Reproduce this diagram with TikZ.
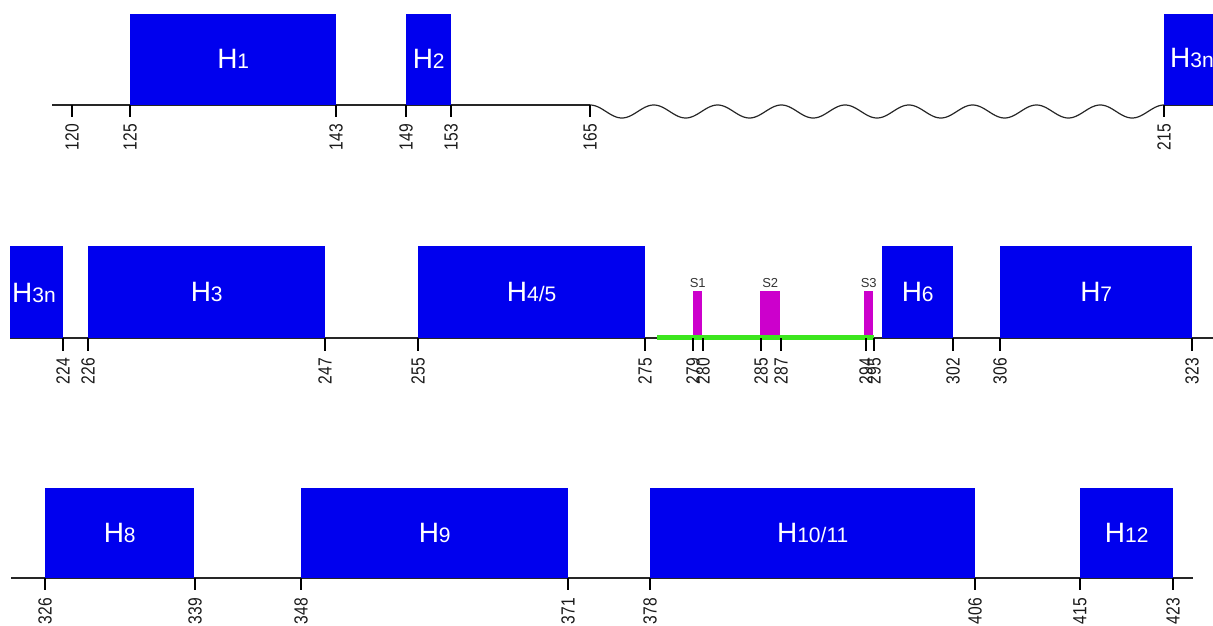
\documentclass[tikz,border=0pt]{standalone}
\usepackage{fontspec}
\setmainfont{Liberation Sans}
\newfontfamily\tickfont[FakeStretch=0.82]{Liberation Sans}
\definecolor{hblue}{RGB}{0,0,238}
\definecolor{smag}{RGB}{204,0,204}
\definecolor{sgreen}{RGB}{60,230,30}
\newcommand\hlab[1]{{\fontsize{28}{28}\selectfont H}{\fontsize{21}{21}\selectfont #1}}
\begin{document}
\begin{tikzpicture}[x=1pt,y=-1pt,
  hbox/.style={fill=hblue, draw=none, inner sep=0, anchor=south west, text=white},
  sbox/.style={fill=smag, draw=none, inner sep=0, anchor=south west},
  slab/.style={inner sep=0, text=black!80, font=\fontsize{13}{13}\selectfont},
  tickmark/.style={line width=1.6pt, black},
  ticklab/.style={rotate=90, anchor=east, inner sep=0, text=black!90, font=\tickfont\fontsize{19}{19}\selectfont},
  axisline/.style={line width=1.5pt, black!85},
]
\useasboundingbox (0,0) rectangle (1213,626);

% ---------------- row 1 ----------------
\coordinate (a1s) at (52,105);
\coordinate (a1w) at (590,105);
\coordinate (a1e) at (1164,105);
\coordinate (a1r) at (1213,105);
\draw[axisline] (a1s) -- (a1w);
\draw[axisline, line width=1.2pt] plot[variable=\t, domain=0:9, samples=400, smooth] ({590+63.78*\t}, {105 + 6.5*(1-cos(360*\t))});
\draw[axisline] (a1e) -- (a1r);
\node[hbox, minimum width=206, minimum height=91] (h1) at (130,105) {\hlab{1}};
\node[hbox, minimum width=45, minimum height=91] (h2) at (406,105) {\hlab{2}};
\node[hbox, minimum width=49, minimum height=91] (h3na) at (1164,105) {};
\node[anchor=west, inner sep=0, text=white] (h3nalab) at (1170,58) {\hlab{3n}};
\foreach \v/\px in {120/72,125/130,143/336,149/406,153/451,165/590,215/1164}{
  \draw[tickmark] (\px,105) -- (\px,117);
  \node[ticklab] (t1-\v) at (\px,124) {\v};
}

% ---------------- row 2 ----------------
\coordinate (a2s) at (10,338);
\coordinate (a2e) at (1213,338);
\draw[axisline] (a2s) -- (a2e);
\node[hbox, minimum width=53, minimum height=92] (h3nb) at (10,338) {};
\node[anchor=west, inner sep=0, text=white] (h3nblab) at (12,293) {\hlab{3n}};
\node[hbox, minimum width=237, minimum height=92] (h3) at (88,338) {\hlab{3}};
\node[hbox, minimum width=227, minimum height=92] (h45) at (418,338) {\hlab{4/5}};
\node[hbox, minimum width=71, minimum height=92] (h6) at (882,338) {\hlab{6}};
\node[hbox, minimum width=192, minimum height=92] (h7) at (1000,338) {\hlab{7}};
% green segment and S boxes
\coordinate (gs) at (657,337.5);
\coordinate (ge) at (874,337.5);
\draw[sgreen, line width=5pt] (gs) -- (ge);
\node[sbox, minimum width=9, minimum height=44] (s1) at (693,335) {};
\node[sbox, minimum width=20, minimum height=44] (s2) at (760,335) {};
\node[sbox, minimum width=9, minimum height=44] (s3) at (864,335) {};
\node[slab, anchor=south] (s1l) at ([yshift=3pt]s1.north) {S1};
\node[slab, anchor=south] (s2l) at ([yshift=3pt]s2.north) {S2};
\node[slab, anchor=south] (s3l) at ([yshift=3pt]s3.north) {S3};
\foreach \v/\px in {224/63,226/88,247/325,255/418,275/645,279/693,280/703,285/761,287/781,294/866,295/874,302/953,306/1000,323/1192}{
  \draw[tickmark] (\px,338) -- (\px,351);
  \node[ticklab] (t2-\v) at (\px,358) {\v};
}

% ---------------- row 3 ----------------
\coordinate (a3s) at (11,578);
\coordinate (a3e) at (1193,578);
\draw[axisline] (a3s) -- (a3e);
\node[hbox, minimum width=149, minimum height=90] (h8) at (45,578) {\hlab{8}};
\node[hbox, minimum width=267, minimum height=90] (h9) at (301,578) {\hlab{9}};
\node[hbox, minimum width=325, minimum height=90] (h1011) at (650,578) {\hlab{10/11}};
\node[hbox, minimum width=93, minimum height=90] (h12) at (1080,578) {\hlab{12}};
\foreach \v/\px in {326/45,339/195,348/301,371/568,378/650,406/975,415/1080,423/1173}{
  \draw[tickmark] (\px,578) -- (\px,590);
  \node[ticklab] (t3-\v) at (\px,598) {\v};
}
\end{tikzpicture}
\end{document}
